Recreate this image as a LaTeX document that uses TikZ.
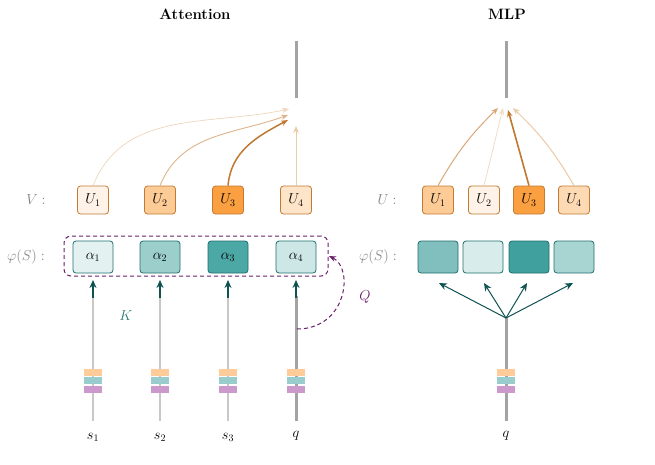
\documentclass[tikz,border=0pt]{standalone}
\usetikzlibrary{arrows.meta}
\definecolor{uborder}{HTML}{C27A34}
\definecolor{uA}{HTML}{FEF3E6}
\definecolor{uB}{HTML}{FDCB95}
\definecolor{uC}{HTML}{FBA040}
\definecolor{uD}{HTML}{FEE4C8}
\definecolor{aborder}{HTML}{1F6F6E}
\definecolor{aA}{HTML}{E3F1F0}
\definecolor{aB}{HTML}{9CCFCC}
\definecolor{aC}{HTML}{4CA8A5}
\definecolor{aD}{HTML}{CDE7E6}
\definecolor{mA}{HTML}{80BFBD}
\definecolor{mB}{HTML}{D8ECEB}
\definecolor{mC}{HTML}{40A09D}
\definecolor{mD}{HTML}{A8D4D2}
\definecolor{tealdark}{HTML}{0F5252}
\definecolor{tealtext}{HTML}{2E7B7B}
\definecolor{purp}{HTML}{6B1F6B}
\definecolor{lightline}{HTML}{C8C8C8}
\definecolor{darkline}{HTML}{A3A3A3}
\definecolor{barO}{HTML}{FFCC99}
\definecolor{barT}{HTML}{99CCCC}
\definecolor{barP}{HTML}{CC99CC}
\definecolor{arA}{HTML}{EED6BA}
\definecolor{arB}{HTML}{DDB48A}
\definecolor{arC}{HTML}{C07830}
\definecolor{arD}{HTML}{EACBA6}
\definecolor{arE}{HTML}{D9A878}
\definecolor{arF}{HTML}{F0DCC6}
\definecolor{labgray}{HTML}{808080}
\begin{document}
\begin{tikzpicture}[x=1pt,y=-1pt,font=\fontsize{14.5}{17}\selectfont,
  ubox/.style={draw=uborder,rounded corners=3pt,minimum width=31pt,minimum height=28pt,inner sep=0pt,line width=0.8pt},
  abox/.style={draw=aborder,rounded corners=3pt,minimum width=40pt,minimum height=32pt,inner sep=0pt,line width=0.8pt},
  sideLabel/.style={text=labgray},
  tip/.style={-{Stealth[length=7pt,width=5.5pt]}},
  tealarrow/.style={-{Stealth[length=8pt,width=7pt]},draw=tealdark,line width=1.2pt},
  lightvec/.style={draw=lightline,line width=2.5pt},
  darkvec/.style={draw=darkline,line width=3pt},
  barbox/.style={minimum width=18pt,minimum height=7pt,inner sep=0pt},
  title/.style={font=\fontsize{15}{17}\selectfont\bfseries}
]
\useasboundingbox (0,0) rectangle (655,464);

% titles
\node[title] (tA) at (195,14) {Attention};
\node[title] (tM) at (507,14) {MLP};

% ===== Attention =====
\coordinate (aoTop) at (296,41);
\coordinate (aoBot) at (296,98);
\draw[darkvec] (aoTop) -- (aoBot);

\node[sideLabel] (Vlab) at (36,200) {$V:$};
\node[ubox,fill=uA] (U1) at (93,200) {$U_1$};
\node[ubox,fill=uB] (U2) at (160,200) {$U_2$};
\node[ubox,fill=uC] (U3) at (228,200) {$U_3$};
\node[ubox,fill=uD] (U4) at (296,200) {$U_4$};

\coordinate (t1) at (289,109);
\coordinate (t2) at (288,115);
\coordinate (t3) at (288,120);
\coordinate (t4) at (296,126);
\draw[tip,draw=arA,line width=0.7pt] (U1.north) to[out=68,in=192] (t1);
\draw[tip,draw=arB,line width=0.9pt] (U2.north) to[out=68,in=200] (t2);
\draw[tip,draw=arC,line width=1.5pt] (U3.north) to[out=85,in=208] (t3);
\draw[tip,draw=arD,line width=0.9pt] (U4.north) -- (t4);

\node[sideLabel] (Plab) at (26,257) {$\varphi(S):$};
\node[abox,fill=aA] (a1) at (93,257) {$\alpha_1$};
\node[abox,fill=aB] (a2) at (160,257) {$\alpha_2$};
\node[abox,fill=aC] (a3) at (228,257) {$\alpha_3$};
\node[abox,fill=aD] (a4) at (296,257) {$\alpha_4$};
\node[draw=purp,dashed,dash pattern=on 4pt off 3pt,line width=1pt,rounded corners=7pt,
      minimum width=264pt,minimum height=40pt,inner sep=0pt] (dbox) at (196,256) {};

% input lines
\foreach \x/\n in {93/1,160/2,228/3}{
  \coordinate (top\n) at (\x,296);
  \coordinate (bot\n) at (\x,421);
  \coordinate (tip\n) at (\x,280);
  \draw[lightvec] (top\n) -- (bot\n);
  \draw[tealarrow] (\x,298) -- (tip\n);
}
\coordinate (top4) at (296,296);
\coordinate (bot4) at (296,421);
\coordinate (tip4) at (296,280);
\draw[darkvec] (top4) -- (bot4);
\draw[tealarrow] (296,298) -- (tip4);

\foreach \x in {93,160,228,296}{
  \node[barbox,fill=barO] at (\x,372) {};
  \node[barbox,fill=barT] at (\x,380.5) {};
  \node[barbox,fill=barP] at (\x,389.5) {};
}

\node (s1) at (93,437) {$s_1$};
\node (s2) at (160,437) {$s_2$};
\node (s3) at (228,437) {$s_3$};
\node (q1) at (296,436) {$q$};

\node[text=tealtext] (K) at (126,316) {$K$};

% Q arrow
\coordinate (qs) at (297,329);
\coordinate (qt) at (329,256);
\draw[tip,draw=purp,line width=1pt,dashed,dash pattern=on 4pt off 3pt]
  (qs) .. controls (347,329) and (354,268) .. (qt);
\node[text=purp] (Q) at (365,297) {$Q$};

% ===== MLP =====
\coordinate (moTop) at (506,41);
\coordinate (moBot) at (506,98);
\draw[darkvec] (moTop) -- (moBot);

\node[sideLabel] (Ulab) at (387,200) {$U:$};
\node[ubox,fill=uB] (M1) at (438,200) {$U_1$};
\node[ubox,fill=uA] (M2) at (484,200) {$U_2$};
\node[ubox,fill=uC] (M3) at (529,200) {$U_3$};
\node[ubox,fill=uD!60!uB] (M4) at (574,200) {$U_4$};

\coordinate (mt1) at (498,108);
\coordinate (mt2) at (503,108);
\coordinate (mt3) at (508,110);
\coordinate (mt4) at (513,108);
\draw[tip,draw=arE,line width=1pt] (M1.north) to[bend left=8] (mt1);
\draw[tip,draw=arF,line width=0.8pt] (M2.north) -- (mt2);
\draw[tip,draw=arC,line width=1.6pt] (M3.north) -- (mt3);
\draw[tip,draw=arD,line width=1pt] (M4.north) to[bend right=8] (mt4);

\node[sideLabel] (P2lab) at (378,257) {$\varphi(S):$};
\node[abox,fill=mA] (b1) at (438,257) {};
\node[abox,fill=mB] (b2) at (483,257) {};
\node[abox,fill=mC] (b3) at (529,257) {};
\node[abox,fill=mD] (b4) at (574,257) {};

\coordinate (mq) at (506,318);
\coordinate (mqb) at (506,421);
\draw[darkvec] (mq) -- (mqb);
\coordinate (bt1) at (439,283);
\coordinate (bt2) at (484,283);
\coordinate (bt3) at (527,283);
\coordinate (bt4) at (573,283);
\foreach \n in {1,2,3,4}{ \draw[tealarrow,line width=1pt] (mq) -- (bt\n); }

\node[barbox,fill=barO] at (506,372) {};
\node[barbox,fill=barT] at (506,380.5) {};
\node[barbox,fill=barP] at (506,389.5) {};
\node (q2) at (506,436) {$q$};
\end{tikzpicture}
\end{document}
